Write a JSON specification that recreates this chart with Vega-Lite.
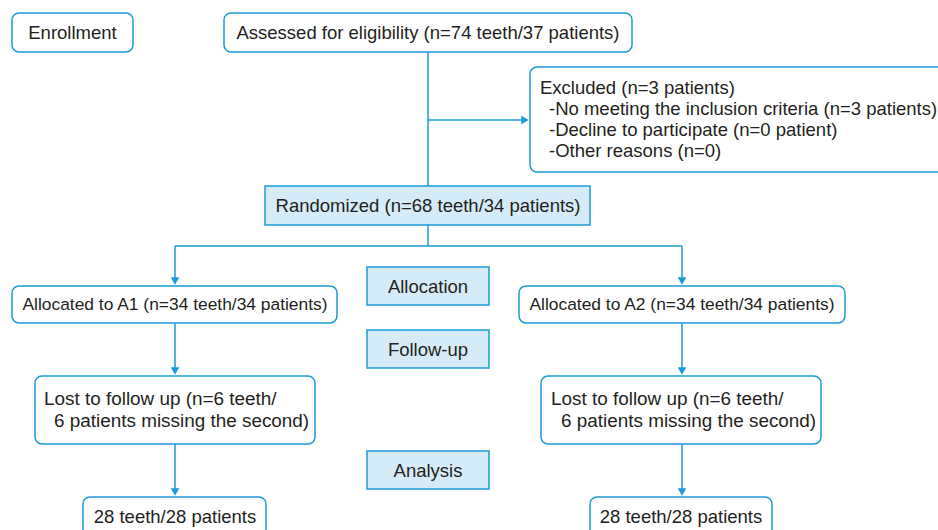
{
  "$schema": "https://vega.github.io/schema/vega-lite/v6.json",
  "width": 938,
  "height": 530,
  "autosize": {"type": "fit", "contains": "padding"},
  "padding": 0,
  "background": "white",
  "config": {"view": {"stroke": null}},
  "datasets": {
    "rounded": [
      {"id": "Enrollment", "x": 12, "x2": 133, "y": 13, "y2": 52},
      {"id": "Assessed", "x": 224, "x2": 632, "y": 13, "y2": 52},
      {"id": "Excluded", "x": 530, "x2": 960, "y": 67, "y2": 172},
      {"id": "A1", "x": 12, "x2": 337, "y": 286, "y2": 323},
      {"id": "A2", "x": 519, "x2": 845, "y": 286, "y2": 323},
      {"id": "LostL", "x": 35, "x2": 315, "y": 376, "y2": 444},
      {"id": "LostR", "x": 541, "x2": 821, "y": 376, "y2": 444},
      {"id": "FinalL", "x": 83, "x2": 266, "y": 497, "y2": 550},
      {"id": "FinalR", "x": 590, "x2": 772, "y": 497, "y2": 550}
    ],
    "filled": [
      {"id": "Randomized", "x": 265, "x2": 590, "y": 186, "y2": 225},
      {"id": "Allocation", "x": 367, "x2": 489, "y": 267, "y2": 305},
      {"id": "Follow-up", "x": 367, "x2": 489, "y": 330, "y2": 368},
      {"id": "Analysis", "x": 367, "x2": 489, "y": 451, "y2": 489}
    ],
    "links": [
      {"x": 428, "x2": 428, "y": 52, "y2": 186},
      {"x": 428, "x2": 525, "y": 120, "y2": 120},
      {"x": 428, "x2": 428, "y": 225, "y2": 246},
      {"x": 175, "x2": 682, "y": 246, "y2": 246},
      {"x": 175, "x2": 175, "y": 246, "y2": 281},
      {"x": 682, "x2": 682, "y": 246, "y2": 281},
      {"x": 175, "x2": 175, "y": 323, "y2": 371},
      {"x": 682, "x2": 682, "y": 323, "y2": 371},
      {"x": 175, "x2": 175, "y": 444, "y2": 492},
      {"x": 682, "x2": 682, "y": 444, "y2": 492}
    ],
    "arrowsDown": [
      {"x": 175, "y": 281},
      {"x": 682, "y": 281},
      {"x": 175, "y": 371},
      {"x": 682, "y": 371},
      {"x": 175, "y": 492},
      {"x": 682, "y": 492}
    ],
    "arrowsRight": [
      {"x": 525, "y": 120}
    ],
    "centerText": [
      {"x": 72.5, "y": 32.5, "label": "Enrollment"},
      {"x": 428, "y": 32.5, "label": "Assessed for eligibility (n=74 teeth/37 patients)"},
      {"x": 428, "y": 205.5, "label": "Randomized (n=68 teeth/34 patients)"},
      {"x": 428, "y": 286.5, "label": "Allocation"},
      {"x": 428, "y": 349.5, "label": "Follow-up"},
      {"x": 428, "y": 470.5, "label": "Analysis"},
      {"x": 175, "y": 516.5, "label": "28 teeth/28 patients"},
      {"x": 681, "y": 516.5, "label": "28 teeth/28 patients"}
    ],
    "allocText": [
      {"x": 175, "y": 304.5, "label": "Allocated to A1 (n=34 teeth/34 patients)"},
      {"x": 682, "y": 304.5, "label": "Allocated to A2 (n=34 teeth/34 patients)"}
    ],
    "excludedText": [
      {"x": 540, "y": 87.5, "label": "Excluded (n=3 patients)"},
      {"x": 549, "y": 108.5, "label": "-No meeting the inclusion criteria (n=3 patients)"},
      {"x": 549, "y": 129.5, "label": "-Decline to participate (n=0 patient)"},
      {"x": 549, "y": 150.5, "label": "-Other reasons (n=0)"}
    ],
    "lostText": [
      {"x": 44, "y": 398.5, "label": "Lost to follow up (n=6 teeth/"},
      {"x": 54, "y": 420.5, "label": "6 patients missing the second)"},
      {"x": 551, "y": 398.5, "label": "Lost to follow up (n=6 teeth/"},
      {"x": 561, "y": 420.5, "label": "6 patients missing the second)"}
    ]
  },
  "layer": [
    {
      "data": {"name": "links"},
      "mark": {"type": "rule", "stroke": "#1b9ad7", "strokeWidth": 1.5},
      "encoding": {
        "x": {"field": "x", "type": "quantitative", "scale": {"domain": [0, 938], "nice": false, "zero": false}, "axis": null},
        "x2": {"field": "x2"},
        "y": {"field": "y", "type": "quantitative", "scale": {"domain": [0, 530], "reverse": true, "nice": false, "zero": false}, "axis": null},
        "y2": {"field": "y2"}
      }
    },
    {
      "data": {"name": "rounded"},
      "mark": {"type": "rect", "fill": "white", "stroke": "#1b9ad7", "strokeWidth": 1.5, "cornerRadius": 7, "clip": true},
      "encoding": {
        "x": {"field": "x", "type": "quantitative"},
        "x2": {"field": "x2"},
        "y": {"field": "y", "type": "quantitative"},
        "y2": {"field": "y2"}
      }
    },
    {
      "data": {"name": "filled"},
      "mark": {"type": "rect", "fill": "#d5ecf8", "stroke": "#1b9ad7", "strokeWidth": 1.5},
      "encoding": {
        "x": {"field": "x", "type": "quantitative"},
        "x2": {"field": "x2"},
        "y": {"field": "y", "type": "quantitative"},
        "y2": {"field": "y2"}
      }
    },
    {
      "data": {"name": "arrowsDown"},
      "mark": {"type": "point", "shape": "triangle-down", "filled": true, "fill": "#1b9ad7", "strokeWidth": 0, "size": 75, "opacity": 1},
      "encoding": {
        "x": {"field": "x", "type": "quantitative"},
        "y": {"field": "y", "type": "quantitative"}
      }
    },
    {
      "data": {"name": "arrowsRight"},
      "mark": {"type": "point", "shape": "triangle-right", "filled": true, "fill": "#1b9ad7", "strokeWidth": 0, "size": 75, "opacity": 1},
      "encoding": {
        "x": {"field": "x", "type": "quantitative"},
        "y": {"field": "y", "type": "quantitative"}
      }
    },
    {
      "data": {"name": "centerText"},
      "mark": {"type": "text", "align": "center", "baseline": "middle", "font": "Liberation Sans", "fontSize": 18.5, "fill": "#231f20"},
      "encoding": {
        "x": {"field": "x", "type": "quantitative"},
        "y": {"field": "y", "type": "quantitative"},
        "text": {"field": "label"}
      }
    },
    {
      "data": {"name": "allocText"},
      "mark": {"type": "text", "align": "center", "baseline": "middle", "font": "Liberation Sans", "fontSize": 17.4, "fill": "#231f20"},
      "encoding": {
        "x": {"field": "x", "type": "quantitative"},
        "y": {"field": "y", "type": "quantitative"},
        "text": {"field": "label"}
      }
    },
    {
      "data": {"name": "excludedText"},
      "mark": {"type": "text", "align": "left", "baseline": "middle", "font": "Liberation Sans", "fontSize": 18.5, "fill": "#231f20", "clip": true},
      "encoding": {
        "x": {"field": "x", "type": "quantitative"},
        "y": {"field": "y", "type": "quantitative"},
        "text": {"field": "label"}
      }
    },
    {
      "data": {"name": "lostText"},
      "mark": {"type": "text", "align": "left", "baseline": "middle", "font": "Liberation Sans", "fontSize": 18.9, "fill": "#231f20"},
      "encoding": {
        "x": {"field": "x", "type": "quantitative"},
        "y": {"field": "y", "type": "quantitative"},
        "text": {"field": "label"}
      }
    }
  ]
}
